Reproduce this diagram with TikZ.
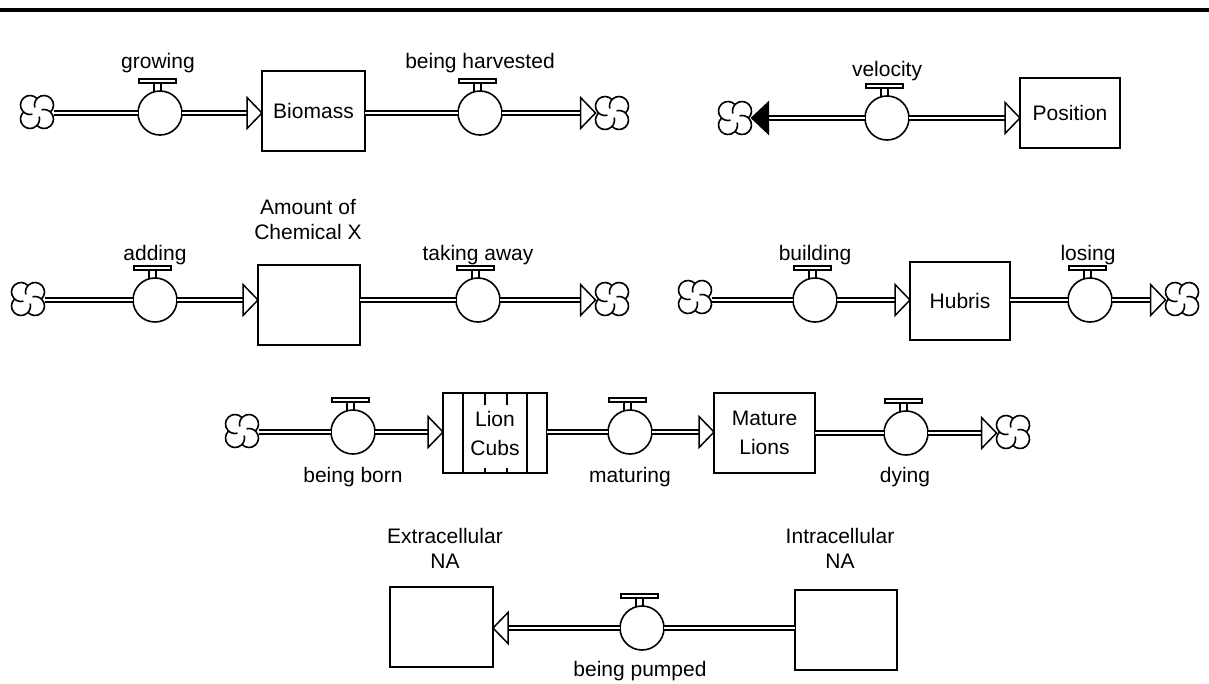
\documentclass[tikz,border=0pt]{standalone}
\usepackage{fontspec}
\setmainfont{Liberation Sans}
\usetikzlibrary{calc}
\newcommand{\labfont}{\fontsize{21}{25}\selectfont}
\newcommand{\twofont}{\fontsize{21}{29}\selectfont}
\newcommand{\cloudat}[1]{%
  \foreach \t in {45,135,225,315}{%
    \draw[cloudline] ([shift={(\t:9.9pt)}]#1.center) ++(\t-92.6:9.5pt) arc[start angle=\t-92.6, end angle=\t+150, radius=9.5pt];
  }}
\newcommand{\valvetop}[1]{%
  \draw[handleline] ([shift={(-6pt,-0.6pt)}]#1.north) -- ++(0,8.6pt);
  \draw[handleline] ([shift={(1pt,-0.6pt)}]#1.north) -- ++(0,8.6pt);
  \draw[handleline, fill=white] ([shift={(-21pt,8pt)}]#1.north) rectangle ([shift={(16pt,12pt)}]#1.north);
}
\begin{document}
\begin{tikzpicture}[x=1pt,y=1pt,
  stockbox/.style={draw, line width=1.6pt, minimum width=103pt, minimum height=80pt, inner sep=0pt, outer sep=0pt, align=center, font=\labfont},
  valvenode/.style={circle, draw, fill=white, line width=1.6pt, minimum size=44pt, inner sep=0pt, outer sep=0pt},
  cloudnode/.style={circle, minimum size=33pt, inner sep=0pt, outer sep=0pt},
  pipe/.style={line width=1.5pt, double=white, double distance=2.4pt},
  lbl/.style={font=\labfont, inner sep=0pt, anchor=base},
  headopen/.style={draw, fill=white, line width=1.5pt, line join=miter},
  headfill/.style={draw, fill=black, line width=1.2pt, line join=miter},
  cloudline/.style={line width=1.6pt},
  handleline/.style={line width=1.3pt},
  stockline/.style={line width=1.6pt}
]
\useasboundingbox (0,0) rectangle (1209,-683);
\fill (0,-8) rectangle (1209,-12);

% ---------- Row 1: Biomass ----------
\node[cloudnode] (c1) at (37,-112) {};
\node[valvenode] (v1) at (160,-113) {};
\node[stockbox] (b1) at (313.5,-111) {Biomass};
\node[valvenode] (v2) at (480,-113) {};
\node[cloudnode] (c2) at (612,-113) {};
\node[lbl] (l1) at (158,-68) {growing};
\node[lbl] (l2) at (480,-68) {being harvested};
\cloudat{c1}\cloudat{c2}
\draw[pipe] (c1.east |- v1) -- (v1);
\draw[pipe] (v1) -- ($(b1.west |- v1)+(-15,0)$);
\draw[headopen] (b1.west |- v1) -- ++(-15,15.5) -- ++(0,-31) -- cycle;
\draw[pipe] (b1.east |- v2) -- (v2);
\draw[pipe] (v2) -- ($(c2.west)+(-15,0)$);
\draw[headopen] (c2.west) -- ++(-15,15.5) -- ++(0,-31) -- cycle;
\valvetop{v1}\valvetop{v2}

% ---------- Velocity / Position ----------
\node[cloudnode] (c3) at (735,-118) {};
\node[valvenode] (v3) at (887,-118) {};
\node[stockbox, minimum width=100pt, minimum height=70pt] (b2) at (1070,-113) {Position};
\node[lbl] (l3) at (887,-76) {velocity};
\cloudat{c3}
\draw[pipe] (v3) -- ($(c3.east)+(17,0)$);
\draw[headfill] (c3.east) -- ++(17,16) -- ++(0,-32) -- cycle;
\draw[pipe] (v3) -- ($(b2.west |- v3)+(-15,0)$);
\draw[headopen] (b2.west |- v3) -- ++(-15,15.5) -- ++(0,-31) -- cycle;
\valvetop{v3}

% ---------- Row 2: Chemical X ----------
\node[cloudnode] (c4) at (28,-299) {};
\node[valvenode] (v4) at (155,-300) {};
\node[stockbox, minimum width=102pt] (b3) at (309,-305) {};
\node[valvenode] (v5) at (478,-300) {};
\node[cloudnode] (c5) at (612,-299) {};
\node[lbl] (l4) at (155,-260) {adding};
\node[lbl] (l5) at (478,-260) {taking away};
\node[lbl] (l6a) at (308,-214) {Amount of};
\node[lbl] (l6b) at (308,-239) {Chemical X};
\cloudat{c4}\cloudat{c5}
\draw[pipe] (c4.east |- v4) -- (v4);
\draw[pipe] (v4) -- ($(b3.west |- v4)+(-15,0)$);
\draw[headopen] (b3.west |- v4) -- ++(-15,15.5) -- ++(0,-31) -- cycle;
\draw[pipe] (b3.east |- v5) -- (v5);
\draw[pipe] (v5) -- ($(c5.west |- v5)+(-15,0)$);
\draw[headopen] (c5.west |- v5) -- ++(-15,15.5) -- ++(0,-31) -- cycle;
\valvetop{v4}\valvetop{v5}

% ---------- Hubris ----------
\node[cloudnode] (c6) at (695,-297) {};
\node[valvenode] (v6) at (815,-300) {};
\node[stockbox, minimum width=100pt, minimum height=78pt] (b4) at (960,-301) {Hubris};
\node[valvenode] (v7) at (1090,-300) {};
\node[cloudnode] (c7) at (1182,-299) {};
\node[lbl] (l7) at (815,-260) {building};
\node[lbl] (l8) at (1088,-260) {losing};
\cloudat{c6}\cloudat{c7}
\draw[pipe] (c6.east |- v6) -- (v6);
\draw[pipe] (v6) -- ($(b4.west |- v6)+(-15,0)$);
\draw[headopen] (b4.west |- v6) -- ++(-15,15.5) -- ++(0,-31) -- cycle;
\draw[pipe] (b4.east |- v7) -- (v7);
\draw[pipe] (v7) -- ($(c7.west |- v7)+(-15,0)$);
\draw[headopen] (c7.west |- v7) -- ++(-15,15.5) -- ++(0,-31) -- cycle;
\valvetop{v6}\valvetop{v7}

% ---------- Row 3: Lions ----------
\node[cloudnode] (c8) at (242,-431) {};
\node[valvenode] (v8) at (353,-432) {};
\node[stockbox, minimum width=104pt, font=\twofont] (b5) at (495,-433) {Lion\\Cubs};
\node[valvenode] (v9) at (630,-432) {};
\node[stockbox, minimum width=101pt, font=\twofont] (b6) at (764.5,-433) {Mature\\Lions};
\node[valvenode] (v10) at (906,-433) {};
\node[cloudnode] (c9) at (1013,-432) {};
\node[lbl] (l9) at (353,-482) {being born};
\node[lbl] (l10) at (630,-482) {maturing};
\node[lbl] (l11) at (905,-482) {dying};
\cloudat{c8}\cloudat{c9}
\draw[stockline] ([xshift=20pt]b5.north west) -- ([xshift=20pt]b5.south west);
\draw[stockline] ([xshift=-20pt]b5.north east) -- ([xshift=-20pt]b5.south east);
\draw[stockline] ([xshift=42pt]b5.north west) -- ++(0,-12);
\draw[stockline] ([xshift=64pt]b5.north west) -- ++(0,-12);
\draw[stockline] ([xshift=42pt]b5.south west) -- ++(0,5);
\draw[stockline] ([xshift=64pt]b5.south west) -- ++(0,5);
\draw[pipe] (c8.east |- v8) -- (v8);
\draw[pipe] (v8) -- ($(b5.west |- v8)+(-15,0)$);
\draw[headopen] (b5.west |- v8) -- ++(-15,15.5) -- ++(0,-31) -- cycle;
\draw[pipe] (b5.east |- v9) -- (v9);
\draw[pipe] (v9) -- ($(b6.west |- v9)+(-15,0)$);
\draw[headopen] (b6.west |- v9) -- ++(-15,15.5) -- ++(0,-31) -- cycle;
\draw[pipe] (b6.east |- v10) -- (v10);
\draw[pipe] (v10) -- ($(c9.west |- v10)+(-15,0)$);
\draw[headopen] (c9.west |- v10) -- ++(-15,15.5) -- ++(0,-31) -- cycle;
\valvetop{v8}\valvetop{v9}\valvetop{v10}

% ---------- Row 4: NA pump ----------
\node[stockbox] (b7) at (441.5,-627) {};
\node[valvenode] (v11) at (642,-628) {};
\node[stockbox, minimum width=102pt] (b8) at (846,-630) {};
\node[lbl] (l12a) at (445,-543) {Extracellular};
\node[lbl] (l12b) at (445,-568) {NA};
\node[lbl] (l13a) at (840,-543) {Intracellular};
\node[lbl] (l13b) at (840,-568) {NA};
\node[lbl] (l14) at (640,-676) {being pumped};
\draw[pipe] (b8.west |- v11) -- (v11);
\draw[pipe] (v11) -- ($(b7.east |- v11)+(15,0)$);
\draw[headopen] (b7.east |- v11) -- ++(15,15.5) -- ++(0,-31) -- cycle;
\valvetop{v11}
\end{tikzpicture}
\end{document}
